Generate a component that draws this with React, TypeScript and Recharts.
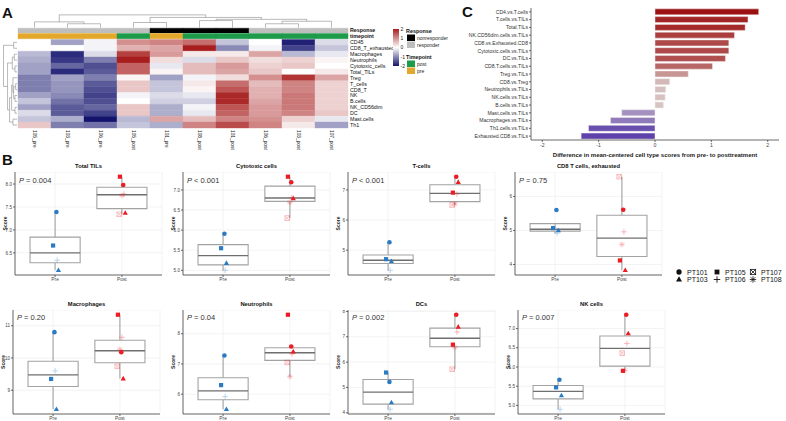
import React from "react";
import {
  ScatterChart,
  Scatter,
  XAxis,
  YAxis,
  CartesianGrid,
  ReferenceArea,
  ReferenceLine,
  BarChart,
  Bar,
  Cell,
  Label,
} from "recharts";

const FONT = "'Liberation Sans', Arial, Helvetica, sans-serif";

// ---------- panel A : heatmap ----------
const heatCols = ["105_pre", "103_pre", "106_pre", "105_post", "101_pre", "108_post", "101_post", "106_post", "103_post", "107_post"];
const heatRows = ["CD45", "CD8_T_exhausted", "Macrophages", "Neutrophils", "Cytotoxic_cells", "Total_TILs", "Treg", "T_cells", "CD8_T", "NK", "B.cells", "NK_CD56dim", "DC", "Mast.cells", "Th1"];
const heatValues = [
  [0.0, -0.8, -0.1, 1.0, 1.1, 1.3, -0.5, 0.0, -1.9, -0.3],
  [0.0, 0.0, -0.1, 0.7, 0.8, 2.0, -1.0, -0.1, -1.6, -0.5],
  [-0.6, -1.8, -0.3, 1.7, 0.9, 0.2, 0.2, 0.8, -0.6, -0.2],
  [-0.7, -1.7, -1.1, 2.0, 0.3, -0.3, 0.5, 0.3, 0.4, 0.1],
  [-0.8, -1.3, -1.5, 1.4, -0.2, 0.6, 0.9, 0.4, 0.5, 0.0],
  [-0.8, -1.8, -1.4, 1.4, 0.1, 0.6, 0.8, 0.5, 0.0, 0.2],
  [-1.1, -0.8, -1.1, 0.1, -0.8, -0.1, 0.3, 1.0, 1.8, 0.8],
  [-1.1, -0.9, -1.4, 0.5, -0.5, 0.2, 1.3, 0.6, 1.1, 0.4],
  [-1.1, -0.9, -1.5, 0.5, -0.5, 0.1, 1.5, 0.7, 1.1, 0.4],
  [-0.8, -1.0, -1.6, -0.1, -0.3, -0.2, 1.9, 0.7, 1.2, 0.4],
  [-0.5, -1.2, -1.5, 0.0, -0.4, -0.4, 1.9, 0.8, 1.2, 0.4],
  [-0.8, -1.4, -1.3, 0.5, -0.7, -0.1, 1.5, 0.9, 1.2, 0.4],
  [-0.3, -1.4, -1.6, 0.5, -0.7, -0.2, 1.4, 0.9, 1.1, 0.5],
  [-0.5, -0.7, -2.0, -0.6, 0.8, 0.6, 1.1, 1.0, 0.4, -0.2],
  [0.5, -1.1, -1.2, -0.5, -0.7, 1.1, 1.6, 1.1, 0.2, -0.8],
];
const colResponse = ["responder", "responder", "responder", "responder", "nonresponder", "nonresponder", "nonresponder", "responder", "responder", "responder"];
const colTimepoint = ["pre", "pre", "pre", "post", "pre", "post", "post", "post", "post", "post"];
// dendrograms: [a, b, height], ids >= n are earlier merges
const colTree = [[1, 2, 0.3], [0, 10, 0.45], [3, 4, 0.4], [7, 8, 0.3], [13, 9, 0.5], [5, 6, 0.55], [15, 14, 0.65], [12, 16, 0.8], [11, 17, 1.0]];
const rowTree = [[0, 1, 0.25], [2, 3, 0.2], [4, 5, 0.15], [16, 17, 0.35], [7, 8, 0.1], [9, 10, 0.15], [19, 20, 0.25], [6, 21, 0.3], [11, 12, 0.15], [22, 23, 0.4], [13, 14, 0.3], [24, 25, 0.55], [18, 26, 0.7], [15, 27, 1.0]];

// ---------- panel C : bars ----------
const cLabels = ["CD4.vs.T.cells", "T.cells.vs.TILs", "Total.TILs", "NK.CD56dim.cells.vs.TILs", "CD8.vs.Exhausted.CD8", "Cytotoxic.cells.vs.TILs", "DC.vs.TILs", "CD8.T.cells.vs.TILs", "Treg.vs.TILs", "CD8.vs.Treg", "Neutrophils.vs.TILs", "NK.cells.vs.TILs", "B.cells.vs.TILs", "Mast.cells.vs.TILs", "Macrophages.vs.TILs", "Th1.cells.vs.TILs", "Exhausted.CD8.vs.TILs"];
const cDiffs = [1.84, 1.65, 1.6, 1.41, 1.31, 1.31, 1.25, 1.02, 0.59, 0.26, 0.19, 0.18, 0.15, -0.59, -0.79, -1.18, -1.31];
const cTicks = [-2, -1, 0, 1, 2];

// ---------- panel B : boxplots ----------
const patients = ["PT101", "PT103", "PT105", "PT106", "PT107", "PT108"];
const prePatients = [0, 1, 2, 3];
const jitter = [0.02, 0.05, -0.03, 0.03, -0.04, 0.0];
const boxTitles = ["Total TILs", "Cytotoxic cells", "T-cells", "CD8 T cells, exhausted", "Macrophages", "Neutrophils", "DCs", "NK cells"];
const boxPvals = ["= 0.004", "< 0.001", "< 0.001", "= 0.75", "= 0.20", "= 0.04", "= 0.002", "= 0.007"];
// pre: PT101, PT103, PT105, PT106
const preScores = [
  [7.39, 6.12, 6.66, 6.34],
  [5.91, 5.18, 5.55, 5.0],
  [5.26, 4.63, 4.7, 4.33],
  [5.6, 5.0, 5.07, 4.92],
  [10.8, 8.41, 9.35, 9.6],
  [7.28, 5.5, 6.3, 5.92],
  [5.22, 4.41, 5.59, 4.14],
  [5.67, 5.26, 5.47, 4.9],
];
// post: PT101, PT103, PT105, PT106, PT107, PT108
const postScores = [
  [7.98, 7.37, 8.16, 7.78, 7.34, 7.75],
  [7.19, 6.79, 7.33, 6.81, 6.3, 6.69],
  [7.44, 7.26, 6.91, 6.86, 6.5, 6.53],
  [5.61, 3.83, 4.12, 4.96, 6.58, 4.59],
  [10.18, 9.36, 11.34, 10.64, 9.74, 10.27],
  [7.58, 7.41, 8.63, 7.33, 7.05, 6.58],
  [7.87, 7.39, 6.69, 7.19, 5.72, 6.58],
  [7.36, 6.87, 5.9, 6.61, 6.36, 5.91],
];
const boxTicks = [
  [6.5, 7.0, 7.5, 8.0],
  [5.0, 5.5, 6.0, 6.5, 7.0],
  [5, 6, 7],
  [4, 5, 6],
  [9, 10, 11],
  [6, 7, 8],
  [4, 5, 6, 7, 8],
  [5.0, 5.5, 6.0, 6.5, 7.0],
];
const tickDigits = [1, 1, 0, 0, 0, 0, 0, 1];

// ---------- helpers ----------
function hexToRgb(h: string) {
  const n = parseInt(h.slice(1), 16);
  return [(n >> 16) & 255, (n >> 8) & 255, n & 255];
}
function mix(a: string, b: string, t: number) {
  const A = hexToRgb(a);
  const B = hexToRgb(b);
  const c = A.map((v, i) => Math.round(v + (B[i] - v) * t));
  return `rgb(${c[0]},${c[1]},${c[2]})`;
}
const HEAT_LOW = "#14146e";
const HEAT_HIGH = "#a81e1e";
function heatColor(v: number) {
  const t = Math.max(-1, Math.min(1, v / 2));
  return t < 0 ? mix("#ffffff", HEAT_LOW, -t) : mix("#ffffff", HEAT_HIGH, t);
}
function diffColor(v: number) {
  const t = Math.min(1, Math.abs(v) / 1.84);
  return v >= 0 ? mix("#ddd3d3", "#9b1111", t) : mix("#ddd3d3", "#2a0699", t);
}
function treeSegments(merges: number[][], n: number) {
  const pos = Array.from({ length: n }, (_, i) => i);
  const ht = new Array(n).fill(0);
  const segs: number[][] = [];
  merges.forEach(([a, b, h]) => {
    segs.push([pos[a], ht[a], pos[a], h]);
    segs.push([pos[b], ht[b], pos[b], h]);
    segs.push([pos[a], h, pos[b], h]);
    pos.push((pos[a] + pos[b]) / 2);
    ht.push(h);
  });
  return segs;
}
function quant(s: number[], p: number) {
  const h = (s.length - 1) * p;
  const lo = Math.floor(h);
  const hi = Math.min(lo + 1, s.length - 1);
  return s[lo] + (h - lo) * (s[hi] - s[lo]);
}
function boxStats(vals: number[]) {
  const s = [...vals].sort((a, b) => a - b);
  const q1 = quant(s, 0.25);
  const med = quant(s, 0.5);
  const q3 = quant(s, 0.75);
  const iqr = q3 - q1;
  const lo = Math.min(...s.filter((v) => v >= q1 - 1.5 * iqr));
  const hi = Math.max(...s.filter((v) => v <= q3 + 1.5 * iqr));
  return { q1, med, q3, lo, hi };
}

const BLUE = "#2b7bc4";
const RED = "#ec1c24";

function Mark({ cx, cy, idx, color, opacity, k = 1 }: any) {
  const c = color;
  switch (idx) {
    case 0:
      return <circle cx={cx} cy={cy} r={2.3 * k} fill={c} opacity={opacity} />;
    case 1:
      return <polygon points={`${cx},${cy - 2.8 * k} ${cx - 2.6 * k},${cy + 1.8 * k} ${cx + 2.6 * k},${cy + 1.8 * k}`} fill={c} opacity={opacity} />;
    case 2:
      return <rect x={cx - 2.1 * k} y={cy - 2.1 * k} width={4.2 * k} height={4.2 * k} fill={c} opacity={opacity} />;
    case 3:
      return (
        <g stroke={c} strokeWidth={0.9} opacity={opacity}>
          <line x1={cx - 2.8 * k} y1={cy} x2={cx + 2.8 * k} y2={cy} />
          <line x1={cx} y1={cy - 2.8 * k} x2={cx} y2={cy + 2.8 * k} />
        </g>
      );
    case 4:
      return (
        <g stroke={c} strokeWidth={0.8} fill="none" opacity={opacity}>
          <rect x={cx - 2.3 * k} y={cy - 2.3 * k} width={4.6 * k} height={4.6 * k} />
          <line x1={cx - 2.3 * k} y1={cy - 2.3 * k} x2={cx + 2.3 * k} y2={cy + 2.3 * k} />
          <line x1={cx - 2.3 * k} y1={cy + 2.3 * k} x2={cx + 2.3 * k} y2={cy - 2.3 * k} />
        </g>
      );
    default:
      return (
        <g stroke={c} strokeWidth={0.8} opacity={opacity}>
          <line x1={cx - 2.8 * k} y1={cy} x2={cx + 2.8 * k} y2={cy} />
          <line x1={cx} y1={cy - 2.8 * k} x2={cx} y2={cy + 2.8 * k} />
          <line x1={cx - 2 * k} y1={cy - 2 * k} x2={cx + 2 * k} y2={cy + 2 * k} />
          <line x1={cx - 2 * k} y1={cy + 2 * k} x2={cx + 2 * k} y2={cy - 2 * k} />
        </g>
      );
  }
}

function PointShape(props: any) {
  const { cx, cy, payload } = props;
  if (cx == null || cy == null) return <g />;
  const color = payload.grp === "Pre" ? BLUE : RED;
  const opacity = payload.pi >= 3 ? 0.35 : 1;
  return <Mark cx={cx} cy={cy} idx={payload.pi} color={color} opacity={opacity} />;
}

// ---------- panel A ----------
const RESP_Y = -2.0;
const TIME_Y = -1.06;

function HeatmapPanel() {
  const els: any[] = [];
  heatValues.forEach((row, r) =>
    row.forEach((v, c) => {
      const col = heatColor(v);
      els.push(
        <ReferenceArea key={`h${r}-${c}`} x1={c - 0.5} x2={c + 0.5} y1={r - 0.5} y2={r + 0.5} fill={col} fillOpacity={1} stroke={col} strokeWidth={0.4} ifOverflow="visible" />
      );
    })
  );
  colResponse.forEach((resp, c) => {
    const col = resp === "nonresponder" ? "#000000" : "#bebebe";
    els.push(<ReferenceArea key={`r${c}`} x1={c - 0.5} x2={c + 0.5} y1={-2.4} y2={-1.6} fill={col} fillOpacity={1} stroke={col} strokeWidth={0.4} ifOverflow="visible" />);
  });
  colTimepoint.forEach((tp, c) => {
    const col = tp === "pre" ? "#e3a82b" : "#1d9b4b";
    els.push(<ReferenceArea key={`t${c}`} x1={c - 0.5} x2={c + 0.5} y1={-1.5} y2={-0.62} fill={col} fillOpacity={1} stroke={col} strokeWidth={0.4} ifOverflow="visible" />);
  });
  treeSegments(colTree, heatCols.length).forEach(([p1, h1, p2, h2], i) => {
    els.push(
      <ReferenceLine key={`ct${i}`} segment={[{ x: p1, y: -2.5 - h1 * 2.15 }, { x: p2, y: -2.5 - h2 * 2.15 }]} stroke="#8a8a8a" strokeWidth={0.6} ifOverflow="visible" />
    );
  });
  treeSegments(rowTree, heatRows.length).forEach(([p1, h1, p2, h2], i) => {
    els.push(
      <ReferenceLine key={`rt${i}`} segment={[{ x: -0.53 - h1 * 0.41, y: p1 }, { x: -0.53 - h2 * 0.41, y: p2 }]} stroke="#8a8a8a" strokeWidth={0.6} ifOverflow="visible" />
    );
  });
  const cells = heatRows.map((_, r) => ({ x: 0, y: r }));

  const RowTick = (props: any) => {
    const { x, y, payload } = props;
    const v = payload.value;
    let label = heatRows[v] ?? "";
    let bold = false;
    if (v === RESP_Y) {
      label = "Response";
      bold = true;
    } else if (v === TIME_Y) {
      label = "timepoint";
      bold = true;
    }
    return (
      <text x={x} y={y} dy={1.9} fontSize={5.3} fontWeight={bold ? 700 : 400} fill="#111" textAnchor="start" fontFamily={FONT}>
        {label}
      </text>
    );
  };
  const ColTick = (props: any) => {
    const { x, y, payload } = props;
    return (
      <text x={x} y={y} dy={1.6} fontSize={4.8} fill="#222" textAnchor="start" transform={`rotate(90 ${x} ${y})`} fontFamily={FONT}>
        {heatCols[payload.value]}
      </text>
    );
  };

  return (
    <div style={{ position: "absolute", left: 3, top: 14 }}>
      <ScatterChart width={400} height={136} margin={{ top: 0, right: 0, bottom: 0, left: 0 }} style={{ overflow: "visible" }}>
        <XAxis type="number" dataKey="x" domain={[-0.955, 9.5]} allowDataOverflow ticks={heatCols.map((_, i) => i)} interval={0} tick={ColTick} axisLine={false} tickLine={false} tickSize={0} tickMargin={2} height={22} />
        <YAxis type="number" dataKey="y" domain={[-4.8, 14.5]} allowDataOverflow reversed orientation="right" ticks={[RESP_Y, TIME_Y, ...heatRows.map((_, i) => i)]} interval={0} tick={RowTick} axisLine={false} tickLine={false} tickSize={0} tickMargin={2} width={55} />
        {els}
        <Scatter data={cells} shape={() => <g />} isAnimationActive={false} />
      </ScatterChart>
    </div>
  );
}

// ---------- panel C ----------
function BarPanel() {
  const data = cLabels.map((name, i) => ({ name, value: cDiffs[i] }));
  return (
    <div style={{ position: "absolute", left: 421, top: 0 }}>
      <BarChart layout="vertical" width={362} height={162} data={data} margin={{ top: 8, right: 4, bottom: 0, left: 0 }} barCategoryGap="11%">
        <XAxis type="number" dataKey="value" domain={[-2.2, 2.2]} allowDataOverflow ticks={cTicks} height={22} tick={{ fontSize: 5.2, fill: "#444", fontFamily: FONT }} tickSize={2} tickMargin={1} stroke="#444" strokeWidth={0.8}>
          <Label value="Difference in mean-centered cell type scores from pre- to posttreatment" position="insideBottom" offset={5} style={{ fontSize: 6, fontWeight: 700, fill: "#222", fontFamily: FONT }} />
        </XAxis>
        <YAxis type="category" dataKey="name" width={110} interval={0} tick={{ fontSize: 5.1, fill: "#333", fontFamily: FONT }} tickSize={2} tickMargin={1} stroke="#444" strokeWidth={0.8} />
        <Bar dataKey="value" isAnimationActive={false} stroke="#f3eded" strokeWidth={0.5}>
          {data.map((d, i) => (
            <Cell key={`c${i}`} fill={diffColor(d.value)} />
          ))}
        </Bar>
      </BarChart>
    </div>
  );
}

// ---------- panel B ----------
const ROW_TOP = [172, 310];
const ROW_PLOT_H = [103, 104];
const AXIS_X = [15, 183, 348, 515, 13, 183, 348, 518];
const PLOT_W = 147;

function BoxPanel({ k }: { k: number }) {
  const row = k < 4 ? 0 : 1;
  const pre = preScores[k];
  const post = postScores[k];
  const all = [...pre, ...post];
  const mn = Math.min(...all);
  const mx = Math.max(...all);
  const pad = (mx - mn) * 0.05;
  const points = [
    ...pre.map((y, j) => ({ x: 1 + jitter[prePatients[j]], y, pi: prePatients[j], grp: "Pre" })),
    ...post.map((y, j) => ({ x: 2 + jitter[j], y, pi: j, grp: "Post" })),
  ];
  const hw = 0.375;
  const boxEls: any[] = [];
  [pre, post].forEach((vals, gi) => {
    const g = gi + 1;
    const s = boxStats(vals);
    boxEls.push(<ReferenceLine key={`wl${gi}`} segment={[{ x: g, y: s.lo }, { x: g, y: s.q1 }]} stroke="#a3a3a3" strokeWidth={1.1} ifOverflow="visible" />);
    boxEls.push(<ReferenceLine key={`wh${gi}`} segment={[{ x: g, y: s.q3 }, { x: g, y: s.hi }]} stroke="#a3a3a3" strokeWidth={1.1} ifOverflow="visible" />);
    boxEls.push(<ReferenceArea key={`bx${gi}`} x1={g - hw} x2={g + hw} y1={s.q1} y2={s.q3} fill="#ffffff" fillOpacity={1} stroke="#a3a3a3" strokeWidth={1.1} ifOverflow="visible" />);
    boxEls.push(<ReferenceLine key={`md${gi}`} segment={[{ x: g - hw, y: s.med }, { x: g + hw, y: s.med }]} stroke="#6f6f6f" strokeWidth={1.4} ifOverflow="visible" />);
  });
  const d = tickDigits[k];
  return (
    <div style={{ position: "absolute", left: AXIS_X[k] - 15, top: ROW_TOP[row] }}>
      <ScatterChart width={15 + PLOT_W + 2} height={ROW_PLOT_H[row] + 10} margin={{ top: 0, right: 2, bottom: 0, left: 0 }}>
        <CartesianGrid stroke="#ebebeb" strokeWidth={0.6} />
        <XAxis type="number" dataKey="x" domain={[0.4, 2.6]} allowDataOverflow ticks={[1, 2]} tickFormatter={(v: number) => (v === 1 ? "Pre" : "Post")} height={10} tick={{ fontSize: 4.8, fill: "#444", fontFamily: FONT }} tickSize={2} tickMargin={1} stroke="#444" strokeWidth={0.8} />
        <YAxis type="number" dataKey="y" domain={[mn - pad, mx + pad]} allowDataOverflow ticks={boxTicks[k]} interval={0} tickFormatter={(v: number) => v.toFixed(d)} width={15} tick={{ fontSize: 4.6, fill: "#444", fontFamily: FONT }} tickSize={2} tickMargin={1} stroke="#444" strokeWidth={0.8} />
        {boxEls}
        <Scatter data={points} shape={PointShape} isAnimationActive={false} />
      </ScatterChart>
    </div>
  );
}

// ---------- texts & legends ----------
function Overlay() {
  const titleY = [168, 306];
  const pY = [182.5, 319.5];
  const legendCols = [679, 717, 753];
  const legendRows = [272, 279.5];
  return (
    <svg width={786} height={421} style={{ position: "absolute", left: 0, top: 0, pointerEvents: "none" }} fontFamily={FONT}>
      <defs>
        <linearGradient id="heatgrad" x1="0" y1="0" x2="0" y2="1">
          <stop offset="0%" stopColor={HEAT_HIGH} />
          <stop offset="50%" stopColor="#ffffff" />
          <stop offset="100%" stopColor={HEAT_LOW} />
        </linearGradient>
      </defs>
      <text x={2} y={18} fontSize={15} fontWeight={700} fill="#111">A</text>
      <text x={2} y={165} fontSize={15} fontWeight={700} fill="#111">B</text>
      <text x={462} y={17} fontSize={15} fontWeight={700} fill="#111">C</text>

      <rect x={393} y={29} width={6} height={37} fill="url(#heatgrad)" />
      {[2, 1, 0, -1, -2].map((v, i) => (
        <text key={`cb${v}`} x={400.5} y={29 + i * 9.25 + 1.8} fontSize={5} fill="#222">{v}</text>
      ))}
      <text x={406} y={32.5} fontSize={5.4} fontWeight={700} fill="#111">Response</text>
      <rect x={407} y={34.5} width={8} height={6.5} fill="#000" />
      <rect x={407} y={41.5} width={8} height={6.5} fill="#bebebe" />
      <text x={417} y={39.8} fontSize={5} fill="#222">nonresponder</text>
      <text x={417} y={46.8} fontSize={5} fill="#222">responder</text>
      <text x={406} y={58.5} fontSize={5.4} fontWeight={700} fill="#111">Timepoint</text>
      <rect x={407} y={60.5} width={8} height={6.5} fill="#1d9b4b" />
      <rect x={407} y={67.5} width={8} height={6.5} fill="#e3a82b" />
      <text x={417} y={65.8} fontSize={5} fill="#222">post</text>
      <text x={417} y={72.8} fontSize={5} fill="#222">pre</text>

      {boxTitles.map((t, k) => {
        const row = k < 4 ? 0 : 1;
        const cx = AXIS_X[k] + PLOT_W / 2;
        const cy = ROW_TOP[row] + ROW_PLOT_H[row] / 2;
        const sx = AXIS_X[k] - 8.4;
        return (
          <g key={`bt${k}`}>
            <text x={cx} y={titleY[row]} fontSize={5.8} fontWeight={700} fill="#111" textAnchor="middle">{t}</text>
            <text x={AXIS_X[k] + 4} y={pY[row]} fontSize={7.5} fill="#333">
              <tspan fontStyle="italic">P</tspan>
              <tspan> {boxPvals[k]}</tspan>
            </text>
            <text x={sx} y={cy} fontSize={5} fontWeight={700} fill="#222" textAnchor="middle" transform={`rotate(-90 ${sx} ${cy})`}>Score</text>
          </g>
        );
      })}

      {patients.map((p, i) => {
        const x = legendCols[Math.floor(i / 2)];
        const yIdx = i % 2;
        return (
          <g key={`lg${p}`}>
            <Mark cx={x} cy={legendRows[yIdx]} idx={i} color="#111" opacity={1} k={1.15} />
            <text x={x + 8} y={legendRows[yIdx] + 2.6} fontSize={7} fill="#111">{p}</text>
          </g>
        );
      })}
    </svg>
  );
}

export default function App() {
  return (
    <div style={{ position: "absolute", left: 0, top: 0, width: 786, height: 421, overflow: "hidden", background: "#fff", fontFamily: FONT }}>
      <HeatmapPanel />
      <BarPanel />
      {boxTitles.map((_, k) => (
        <BoxPanel key={`bp${k}`} k={k} />
      ))}
      <Overlay />
    </div>
  );
}
